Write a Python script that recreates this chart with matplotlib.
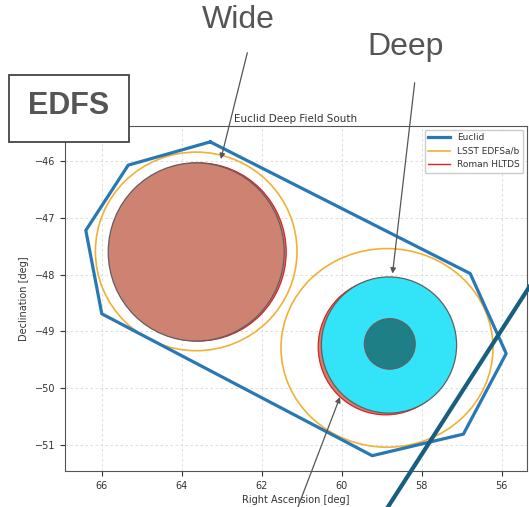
import matplotlib
matplotlib.use("Agg")
import matplotlib.pyplot as plt
from matplotlib.patches import Ellipse, Rectangle
from matplotlib.lines import Line2D

# ---- data ----
euclid_ra = [63.29, 65.34, 66.40, 66.00, 59.24, 56.96, 55.89, 56.79, 63.29]
euclid_dec = [-45.66, -46.07, -47.22, -48.69, -51.19, -50.81, -49.39, -47.98, -45.66]

# LSST EDFSa/b circles: (ra, dec, width_ra, height_dec)
lsst_ra = [63.64, 58.87]
lsst_dec = [-47.59, -49.29]
lsst_w = [5.04, 5.30]
lsst_h = [3.50, 3.50]

# Roman HLTDS circles
roman_ra = [63.59, 58.90]
roman_dec = [-47.60, -49.27]
roman_w = [4.40, 3.38]
roman_h = [3.14, 2.40]

# Wide / Deep highlights
wide_ra, wide_dec, wide_w, wide_h = 63.64, -47.60, 4.40, 3.14
deep_ra, deep_dec, deep_w, deep_h = 58.82, -49.24, 3.38, 2.40
core_ra, core_dec, core_w, core_h = 58.80, -49.22, 1.27, 0.89

xticks = [66, 64, 62, 60, 58, 56]
yticks = [-46, -47, -48, -49, -50, -51]

fig = plt.figure(figsize=(5.29, 5.07), dpi=100)
ax = fig.add_axes([0.1229, 0.0710, 0.8733, 0.6805])

brown = '#cd8272'
orange = '#f2b035'
blue = '#2878b4'

for i in range(len(roman_ra)):
    ax.add_patch(Ellipse((roman_ra[i], roman_dec[i]), roman_w[i], roman_h[i],
                         facecolor=brown, edgecolor='#e02020', lw=0.9, zorder=2))

ax.add_patch(Ellipse((wide_ra, wide_dec), wide_w, wide_h, facecolor=brown,
                     edgecolor='#606060', lw=0.9, zorder=3))
ax.add_patch(Ellipse((deep_ra, deep_dec), deep_w, deep_h, facecolor='#33e3f8',
                     edgecolor='#606060', lw=0.9, zorder=3))
ax.add_patch(Ellipse((core_ra, core_dec), core_w, core_h, facecolor='#1e7f87',
                     edgecolor='#606060', lw=0.9, zorder=4))

for i in range(len(lsst_ra)):
    ax.add_patch(Ellipse((lsst_ra[i], lsst_dec[i]), lsst_w[i], lsst_h[i],
                         facecolor='none', edgecolor=orange, lw=1.2, zorder=5))

ax.plot(euclid_ra, euclid_dec, color=blue, lw=2.3, zorder=6)

ax.set_xlim(66.92, 55.37)
ax.set_ylim(-51.46, -45.38)
ax.set_xticks(xticks)
ax.set_yticks(yticks)
ax.tick_params(labelsize=7, colors='#333333')
ax.grid(True, ls=(0, (3, 3)), color='#d8d8d8', lw=0.6)
ax.set_axisbelow(True)
for s in ax.spines.values():
    s.set_color('#555555')
ax.set_xlabel('Right Ascension [deg]', fontsize=7, color='#333333', labelpad=3)
ax.set_ylabel('Declination [deg]', fontsize=7, color='#333333')
ax.set_title('Euclid Deep Field South', fontsize=7.5, color='#333333', pad=3)

handles = [Line2D([], [], color=blue, lw=2.3),
           Line2D([], [], color=orange, lw=1.2),
           Line2D([], [], color='#e02020', lw=1.0)]
ax.legend(handles, ['Euclid', 'LSST EDFSa/b', 'Roman HLTDS'], loc='upper right',
          fontsize=6.5, framealpha=1, edgecolor='#cccccc', labelcolor='#333333',
          handlelength=2.4, borderaxespad=0.4)

# annotations outside axes
fs_big = 23
fig.text(238 / 529, 1 - 20 / 507, 'Wide', fontsize=fs_big, color='#555555',
         family='Liberation Sans', ha='center', va='center')
fig.text(406 / 529, 1 - 47 / 507, 'Deep', fontsize=fs_big, color='#555555',
         family='Liberation Sans', ha='center', va='center')

arrowprops = dict(arrowstyle='-|>', color='#555555', lw=0.9, mutation_scale=8)
ax.annotate('', xy=(63.04, -46.01), xytext=(248, 457), textcoords='figure pixels',
            arrowprops=arrowprops, annotation_clip=False, zorder=10)
ax.annotate('', xy=(58.74, -48.03), xytext=(415, 427), textcoords='figure pixels',
            arrowprops=arrowprops, annotation_clip=False, zorder=10)
ax.annotate('', xy=(60.02, -50.11), xytext=(296, -5), textcoords='figure pixels',
            arrowprops=arrowprops, annotation_clip=False, zorder=10)

# EDFS box
fig.patches.append(Rectangle((9 / 529, 1 - 142 / 507), 120 / 529, 67 / 507,
                             transform=fig.transFigure, facecolor='white',
                             edgecolor='#444444', lw=1.3, zorder=20))
fig.text(69 / 529, 1 - 106 / 507, 'EDFS', fontsize=22, fontweight='bold',
         color='#555555', family='Liberation Sans', ha='center', va='center', zorder=21)

# dark diagonal line
fig.add_artist(Line2D([386 / 529, 535 / 529], [-3 / 507, 229 / 507],
                      transform=fig.transFigure, color='#175f80', lw=3.0, zorder=30))

fig.savefig('out.png', dpi=100)
